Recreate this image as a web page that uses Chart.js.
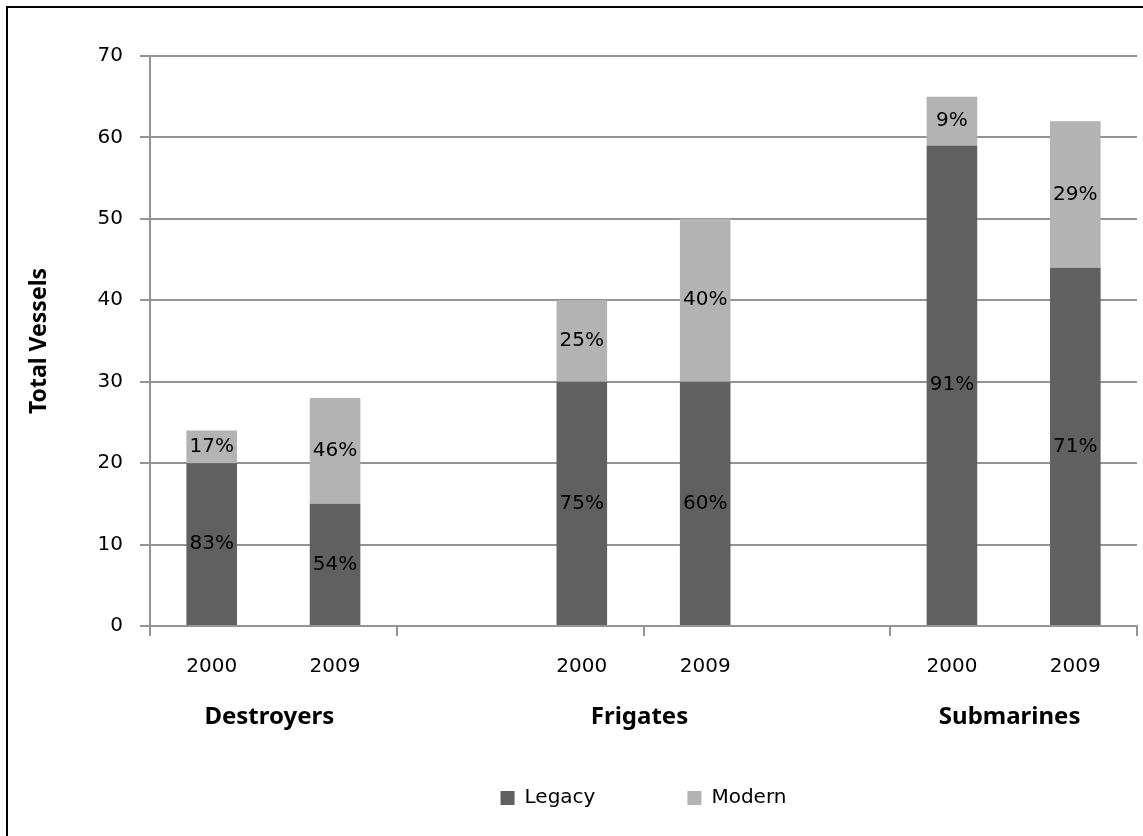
<!DOCTYPE html>
<html>
<head>
<meta charset="utf-8">
<script src="https://cdn.jsdelivr.net/npm/chart.js@4.4.1/dist/chart.umd.min.js"></script>
<style>
  html, body { margin: 0; padding: 0; background: #fff; }
  #wrap { position: relative; width: 1143px; height: 836px; }
  #frame { position: absolute; left: 6px; top: 6px; right: 0; bottom: 0;
           border-left: 2px solid #000; border-top: 2px solid #000; pointer-events: none; }
  canvas { position: absolute; left: 0; top: 0; }
</style>
</head>
<body>
<div id="wrap">
  <canvas id="chart" width="1143" height="836"></canvas>
  <div id="frame"></div>
</div>
<script>
// Legacy: #606060
// Modern: #b3b3b3

const years = ["2000", "2009", "", "2000", "2009", "", "2000", "2009"];
const groups = ["Destroyers", "Frigates", "Submarines"];
const groupStart = [0, 3, 6];
const legacy = [20, 15, null, 30, 30, null, 59, 44];
const modern = [4, 13, null, 10, 20, null, 6, 18];
const yTicks = [0, 10, 20, 30, 40, 50, 60, 70];

const gray = "#949494";
Chart.defaults.font.family = "DejaVu Sans";
Chart.defaults.font.size = 20;
Chart.defaults.color = "#000";

// percentage inside each stacked piece
const pctLabels = {
    id: "pctLabels",
    afterDatasetsDraw(chart) {
        const ctx = chart.ctx;
        ctx.save();
        ctx.font = "20px 'DejaVu Sans'";
        ctx.fillStyle = "#000";
        ctx.textAlign = "center";
        ctx.textBaseline = "middle";
        chart.data.datasets.forEach((ds, d) => {
            chart.getDatasetMeta(d).data.forEach((bar, i) => {
                const v = ds.data[i];
                if (v == null) return;
                const total = legacy[i] + modern[i];
                const pct = Math.round(v / total * 100) + "%";
                ctx.fillText(pct, bar.x, (bar.y + bar.base) / 2);
            });
        });
        ctx.restore();
    }
};

// group names under the year labels
const groupLabels = {
    id: "groupLabels",
    afterDraw(chart) {
        const x = chart.scales.x;
        const ctx = chart.ctx;
        ctx.save();
        ctx.font = "bold 24px 'Noto Sans'";
        ctx.fillStyle = "#000";
        ctx.textAlign = "center";
        ctx.textBaseline = "middle";
        groups.forEach((g, k) => {
            const a = x.getPixelForValue(groupStart[k]);
            const b = x.getPixelForValue(groupStart[k] + 1);
            ctx.fillText(g, (a + b) / 2 - 4, 717);
        });
        ctx.restore();
    }
};

const chart = new Chart(document.getElementById("chart"), {
    type: "bar",
    data: {
        labels: years,
        datasets: [{
            label: "Legacy",
            data: legacy,
            backgroundColor: "#606060",
            barPercentage: 0.41,
            categoryPercentage: 1.0
        }, {
            label: "Modern",
            data: modern,
            backgroundColor: "#b3b3b3",
            barPercentage: 0.41,
            categoryPercentage: 1.0
        }]
    },
    options: {
        responsive: false,
        animation: false,
        layout: { padding: { left: 0, right: 6, top: 56, bottom: 18 } },
        plugins: {
            legend: {
                position: "bottom",
                fullSize: false,
                labels: {
                    boxWidth: 14,
                    boxHeight: 14,
                    padding: 92,
                    color: "#000",
                    font: { size: 20 }
                }
            },
            tooltip: { enabled: false }
        },
        scales: {
            x: {
                stacked: true,
                offset: true,
                grid: {
                    offset: true,
                    drawOnChartArea: false,
                    tickLength: 10,
                    lineWidth: 2,
                    color: (c) => (c.type === "tick" && c.index % 2 !== 0) ? "transparent" : gray
                },
                border: { color: gray, width: 2 },
                ticks: { padding: 19, maxRotation: 0, autoSkip: false, color: "#000" },
                afterFit: (axis) => { axis.height = 70; }
            },
            y: {
                stacked: true,
                min: 0,
                max: 70,
                afterBuildTicks: (axis) => { axis.ticks = yTicks.map(v => ({ value: v })); },
                grid: { color: gray, lineWidth: 2, tickLength: 10 },
                border: { color: gray, width: 2 },
                ticks: { padding: 17, color: "#000" },
                title: {
                    display: true,
                    text: "Total Vessels",
                    color: "#000",
                    font: { family: "Noto Sans", weight: "bold", size: 23 },
                    padding: { top: 26, bottom: 0 }
                },
                afterFit: (axis) => { axis.width = 150; }
            }
        }
    },
    plugins: [pctLabels, groupLabels]
});
</script>
</body>
</html>
